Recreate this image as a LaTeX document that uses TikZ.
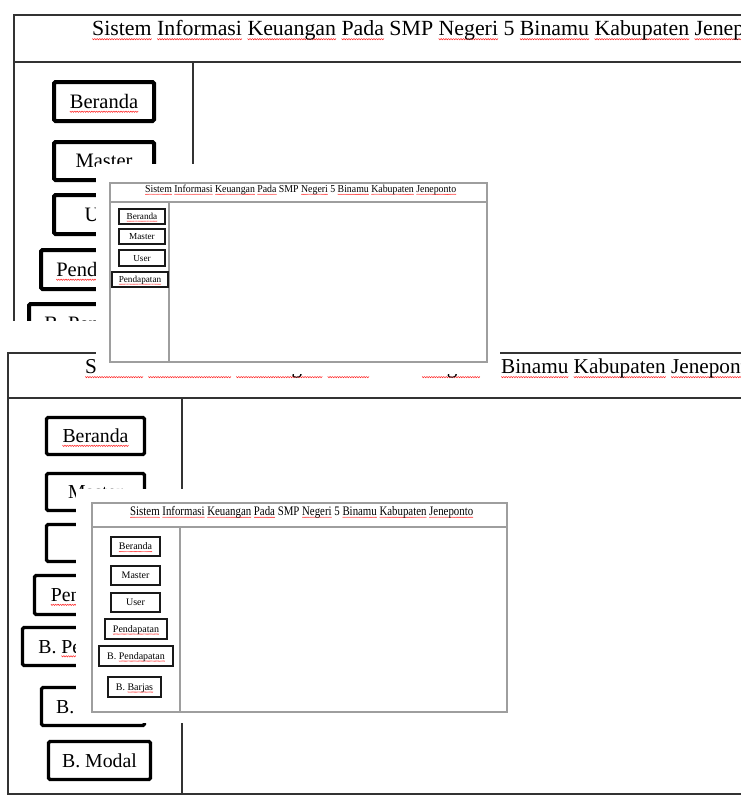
\documentclass[tikz,border=0pt]{standalone}
\usepackage{fontspec}
\setmainfont{Liberation Serif}
\usepackage{graphicx}
\def\sqs{1}
\newsavebox\wavebox
\newsavebox\sqbox
\newcommand\sq[1]{\leavevmode\sbox\sqbox{#1}\rlap{\lower0.2em\hbox to \wd\sqbox{\xleaders\hbox{\scalebox{\sqs}{\usebox\wavebox}}\hfil}}\usebox\sqbox}
\newsavebox\fitbox
\newlength\fitlen
\newcommand\fitt[3]{\sbox\fitbox{\fontsize{#2}{#2}\selectfont #3}\setlength\fitlen{\wd\fitbox}\pgfmathsetmacro\fitsx{#1/\fitlen}\scalebox{\fitsx}[1]{\usebox\fitbox}}
\newcommand\titletext{\sq{Sistem} \sq{Informasi} \sq{Keuangan} \sq{Pada} SMP \sq{Negeri} 5 \sq{Binamu} \sq{Kabupaten} \sq{Jeneponto}}
\begin{document}
\sbox\wavebox{\begin{pgfpicture}\pgfpathrectangle{\pgfpointorigin}{\pgfpoint{2.4pt}{1.3pt}}\pgfusepath{use as bounding box}\pgfsetlinewidth{0.55pt}\pgfsetstrokecolor{red!85}\pgfpathmoveto{\pgfpoint{0pt}{1.3pt}}\pgfpathlineto{\pgfpoint{1.2pt}{0pt}}\pgfpathlineto{\pgfpoint{2.4pt}{1.3pt}}\pgfusepath{stroke}\end{pgfpicture}}%
\begin{tikzpicture}[x=1pt,y=-1pt,
  frame/.style={draw=black!80, line width=1.8pt},
  iframe/.style={draw=black!38, line width=1.4pt},
  btnA/.style={draw=black, line width=4pt, rounded corners=1.5pt, inner sep=0pt, text height=13.5pt, text depth=0pt, font=\fontsize{20.5}{20.5}\selectfont},
  btnB/.style={draw=black, line width=3.2pt, rounded corners=1.5pt, inner sep=0pt, text height=13pt, text depth=0pt, font=\fontsize{19.8}{19.8}\selectfont},
  btnI/.style={draw=black!90, line width=1.8pt, inner sep=0pt, text height=6.2pt, text depth=0pt, font=\def\sqs{0.45}\fontsize{9.2}{9.2}\selectfont},
  btnJ/.style={draw=black!90, line width=2pt, inner sep=0pt, text height=6.8pt, text depth=0pt, font=\def\sqs{0.5}\fontsize{10}{10}\selectfont},
  ttl/.style={anchor=base west, inner sep=0pt}]
\useasboundingbox[fill=white] (0,0) rectangle (741,798);
% ---------- panel A (top screenshot, cropped) ----------
\begin{scope}
\clip (0,0) rectangle (741,320);
\draw[frame] (14,15) rectangle (760,340);
\draw[frame] (14,62) -- (760,62);
\draw[frame] (193,62) -- (193,340);
\node[ttl] (tA) at (92,35.5) {\fitt{691}{21.6}{\titletext}};
\node[btnA, minimum width=100pt, minimum height=39pt] (a1) at (104,101.5) {\sq{Beranda}};
\node[btnA, minimum width=100pt, minimum height=38pt] (a2) at (104,161) {Master};
\node[btnA, minimum width=100pt, minimum height=39pt] (a3) at (104,214.5) {User};
\node[btnA, minimum width=125pt, minimum height=39pt] (a4) at (103.5,269.5) {\sq{Pendapatan}};
\node[btnA, minimum width=149pt, minimum height=39pt] (a5) at (103.5,323.5) {B. \sq{Pendapatan}};
\end{scope}
% ---------- panel B (bottom screenshot) ----------
\begin{scope}
\clip (0,340) rectangle (741,798);
\draw[frame] (8,353) rectangle (760,794);
\draw[frame] (8,398) -- (760,398);
\draw[frame] (182,398) -- (182,794);
\node[ttl] (tB) at (85,373.5) {\fitt{672}{21.2}{\titletext}};
\node[btnB, minimum width=98pt, minimum height=37pt] (b1) at (95.5,436) {\sq{Beranda}};
\node[btnB, minimum width=98pt, minimum height=37pt] (b2) at (95.5,492) {Master};
\node[btnB, minimum width=98pt, minimum height=37pt] (b3) at (95.5,543) {User};
\node[btnB, minimum width=124pt, minimum height=39pt] (b4) at (96.5,595) {\sq{Pendapatan}};
\node[btnB, minimum width=146pt, minimum height=38pt] (b5) at (95.5,646.5) {B. \sq{Pendapatan}};
\node[btnB, minimum width=103pt, minimum height=38pt] (b6) at (93,706.5) {B. \sq{Barjas}};
\node[btnB, minimum width=102pt, minimum height=38pt] (b7) at (99.5,760.5) {B. Modal};
\end{scope}
% ---------- inset 1 ----------
\fill[white] (96,164) rectangle (500,373.5);
\draw[iframe] (110,183) rectangle (487,362);
\draw[iframe] (110,202) -- (487,202);
\draw[iframe] (169,202) -- (169,362);
\node[ttl] (tI) at (145,192.5) {\def\sqs{0.45}\fitt{311}{10.6}{\titletext}};
\node[btnI, minimum width=46pt, minimum height=15pt] (c1) at (142,216.5) {\sq{Beranda}};
\node[btnI, minimum width=46pt, minimum height=15pt] (c2) at (142,236.5) {Master};
\node[btnI, minimum width=46pt, minimum height=16pt] (c3) at (142,258) {User};
\node[btnI, minimum width=56pt, minimum height=15pt] (c4) at (140,279.5) {\sq{Pendapatan}};
% ---------- inset 2 ----------
\fill[white] (76,489) rectangle (520,723);
\draw[iframe] (92,503) rectangle (507,712);
\draw[iframe] (92,527) -- (507,527);
\draw[iframe] (180,527) -- (180,712);
\node[ttl] (tJ) at (130,515) {\def\sqs{0.5}\fitt{343}{13}{\titletext}};
\node[btnJ, minimum width=49pt, minimum height=19pt] (d1) at (135.5,546.5) {\sq{Beranda}};
\node[btnJ, minimum width=49pt, minimum height=19pt] (d2) at (135.5,575.5) {Master};
\node[btnJ, minimum width=49pt, minimum height=19pt] (d3) at (135.5,602.5) {User};
\node[btnJ, minimum width=62pt, minimum height=20pt] (d4) at (136,629) {\sq{Pendapatan}};
\node[btnJ, minimum width=74pt, minimum height=20pt] (d5) at (136,656) {B. \sq{Pendapatan}};
\node[btnJ, minimum width=53pt, minimum height=20pt] (d6) at (134.5,687) {B. \sq{Barjas}};
\end{tikzpicture}
\end{document}
